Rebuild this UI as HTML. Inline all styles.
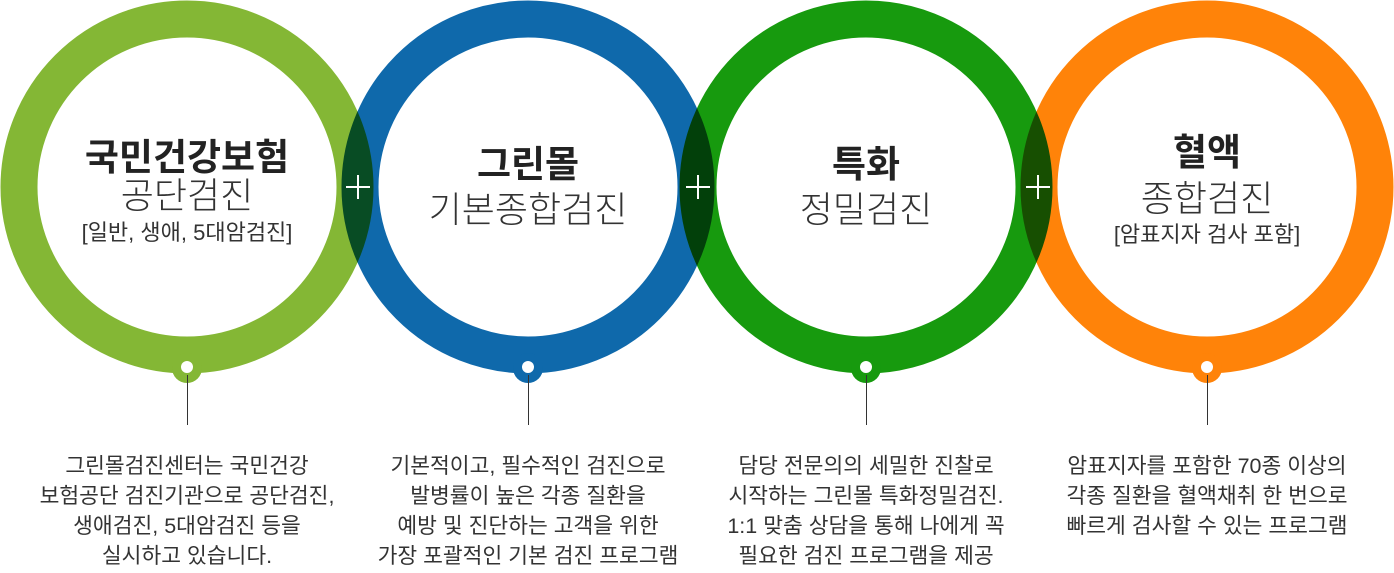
<!DOCTYPE html>
<html><head><meta charset="utf-8"><style>
body{margin:0;width:1394px;height:573px;background:#fff;overflow:hidden;position:relative;font-family:"Liberation Sans","Noto Sans CJK KR",sans-serif;color:#333}
svg{position:absolute;left:0;top:0}
.t{position:absolute;text-align:center;width:340px;white-space:nowrap;line-height:1}
.b{font-weight:bold;font-size:37px;color:#222}
.s{font-size:36px;font-weight:300;color:#333}
.k{font-size:22px;color:#333}
.d{position:absolute;top:451px;width:400px;text-align:center;font-size:21.5px;line-height:30px;color:#333;white-space:nowrap}
</style></head><body>
<svg width="1394" height="573">
<g style="isolation:isolate">
<g fill="none" stroke-width="37">
<circle cx="187" cy="187" r="168" stroke="#84b735" style="mix-blend-mode:multiply"/>
<circle cx="528" cy="187" r="168" stroke="#0f69ab" style="mix-blend-mode:multiply"/>
<circle cx="866" cy="187" r="168" stroke="#179a0e" style="mix-blend-mode:multiply"/>
<circle cx="1207" cy="187" r="168" stroke="#ff8309" style="mix-blend-mode:multiply"/>
</g>
<circle cx="187" cy="368" r="15" fill="#84b735"/>
<circle cx="528" cy="368" r="15" fill="#0f69ab"/>
<circle cx="866" cy="368" r="15" fill="#179a0e"/>
<circle cx="1207" cy="368" r="15" fill="#ff8309"/>
</g>
<g fill="#fff"><circle cx="187" cy="367" r="6"/><circle cx="528" cy="367" r="6"/><circle cx="866" cy="367" r="6"/><circle cx="1207" cy="367" r="6"/></g>
<g stroke="#333" stroke-width="1">
<line x1="187.5" y1="375" x2="187.5" y2="425"/><line x1="528.5" y1="375" x2="528.5" y2="425"/><line x1="866.5" y1="375" x2="866.5" y2="425"/><line x1="1207.5" y1="375" x2="1207.5" y2="425"/>
</g>
<g stroke="#fff" stroke-width="2">
<line x1="346" y1="187" x2="370" y2="187"/><line x1="358" y1="175" x2="358" y2="199"/>
<line x1="686" y1="187" x2="710" y2="187"/><line x1="698" y1="175" x2="698" y2="199"/>
<line x1="1026" y1="187" x2="1050" y2="187"/><line x1="1038" y1="175" x2="1038" y2="199"/>
</g>
</svg>
<div class="t b" style="left:17px;top:139px">국민건강보험</div>
<div class="t s" style="left:17px;top:178px">공단검진</div>
<div class="t k" style="left:17px;top:222px">[일반, 생애, 5대암검진]</div>
<div class="t b" style="left:358px;top:146px">그린몰</div>
<div class="t s" style="left:358px;top:192px">기본종합검진</div>
<div class="t b" style="left:696px;top:146px">특화</div>
<div class="t s" style="left:696px;top:192px">정밀검진</div>
<div class="t b" style="left:1037px;top:134px">혈액</div>
<div class="t s" style="left:1037px;top:181px">종합검진</div>
<div class="t k" style="left:1037px;top:224px">[암표지자 검사 포함]</div>
<div class="d" style="left:-13px">그린몰검진센터는 국민건강<br>보험공단 검진기관으로 공단검진,<br>생애검진, 5대암검진 등을<br>실시하고 있습니다.</div>
<div class="d" style="left:328px">기본적이고, 필수적인 검진으로<br>발병률이 높은 각종 질환을<br>예방 및 진단하는 고객을 위한<br>가장 포괄적인 기본 검진 프로그램</div>
<div class="d" style="left:666px">담당 전문의의 세밀한 진찰로<br>시작하는 그린몰 특화정밀검진.<br>1:1 맞춤 상담을 통해 나에게 꼭<br>필요한 검진 프로그램을 제공</div>
<div class="d" style="left:1007px">암표지자를 포함한 70종 이상의<br>각종 질환을 혈액채취 한 번으로<br>빠르게 검사할 수 있는 프로그램</div>
</body></html>
